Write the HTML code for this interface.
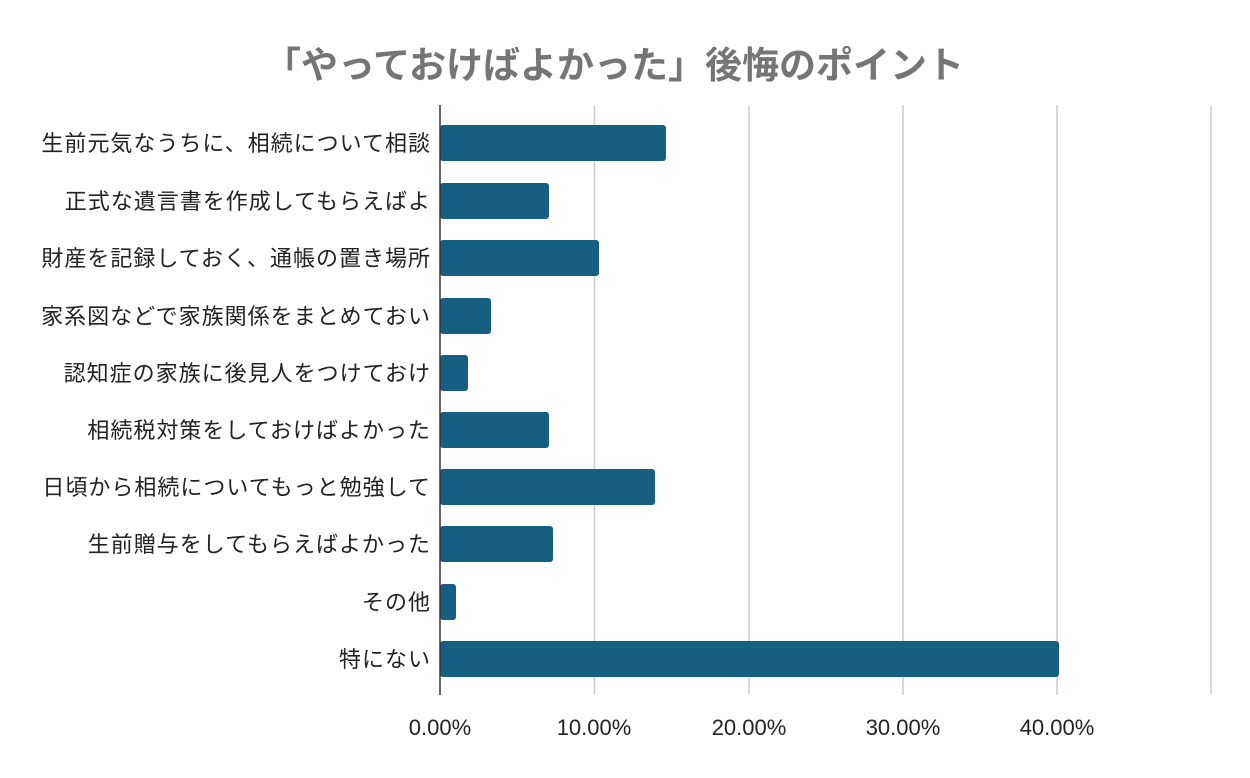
<!DOCTYPE html>
<html><head><meta charset="utf-8"><style>
body{margin:0;background:#fff}
text{font-family:"Liberation Sans","Noto Sans CJK JP",sans-serif}
</style></head><body>
<svg width="1250" height="773" xmlns="http://www.w3.org/2000/svg">
<rect width="1250" height="773" fill="#fff"/>
<text x="614" y="78" text-anchor="middle" font-size="37" font-weight="bold" fill="#757575">「やっておけばよかった」後悔のポイント</text>
<g stroke="#cccccc" stroke-width="1.5">
<line x1="594.5" y1="105" x2="594.5" y2="695"/>
<line x1="749" y1="105" x2="749" y2="695"/>
<line x1="903" y1="105" x2="903" y2="695"/>
<line x1="1057" y1="105" x2="1057" y2="695"/>
<line x1="1211" y1="105" x2="1211" y2="695"/>
</g>
<g fill="#175f82">
<rect x="440" y="125" width="226" height="36" rx="3"/>
<rect x="440" y="183" width="109" height="36" rx="3"/>
<rect x="440" y="240" width="159" height="36" rx="3"/>
<rect x="440" y="298" width="51" height="36" rx="3"/>
<rect x="440" y="355" width="28" height="36" rx="3"/>
<rect x="440" y="412" width="109" height="36" rx="3"/>
<rect x="440" y="469" width="215" height="36" rx="3"/>
<rect x="440" y="526" width="113" height="36" rx="3"/>
<rect x="440" y="584" width="16" height="36" rx="3"/>
<rect x="440" y="641" width="619" height="36" rx="3"/>
</g>
<line x1="440" y1="105" x2="440" y2="695" stroke="#333" stroke-width="1.5"/>
<g font-size="22" fill="#222" text-anchor="end" letter-spacing="1">
<text x="431" y="151">生前元気なうちに、相続について相談</text>
<text x="431" y="209">正式な遺言書を作成してもらえばよ</text>
<text x="431" y="266">財産を記録しておく、通帳の置き場所</text>
<text x="431" y="324">家系図などで家族関係をまとめておい</text>
<text x="431" y="381">認知症の家族に後見人をつけておけ</text>
<text x="431" y="438">相続税対策をしておけばよかった</text>
<text x="431" y="495">日頃から相続についてもっと勉強して</text>
<text x="431" y="552">生前贈与をしてもらえばよかった</text>
<text x="431" y="610">その他</text>
<text x="431" y="667">特にない</text>
</g>
<g font-size="22" fill="#222" text-anchor="middle">
<text x="440" y="735">0.00%</text>
<text x="594" y="735">10.00%</text>
<text x="749" y="735">20.00%</text>
<text x="903" y="735">30.00%</text>
<text x="1057" y="735">40.00%</text>
</g>
</svg>
</body></html>
